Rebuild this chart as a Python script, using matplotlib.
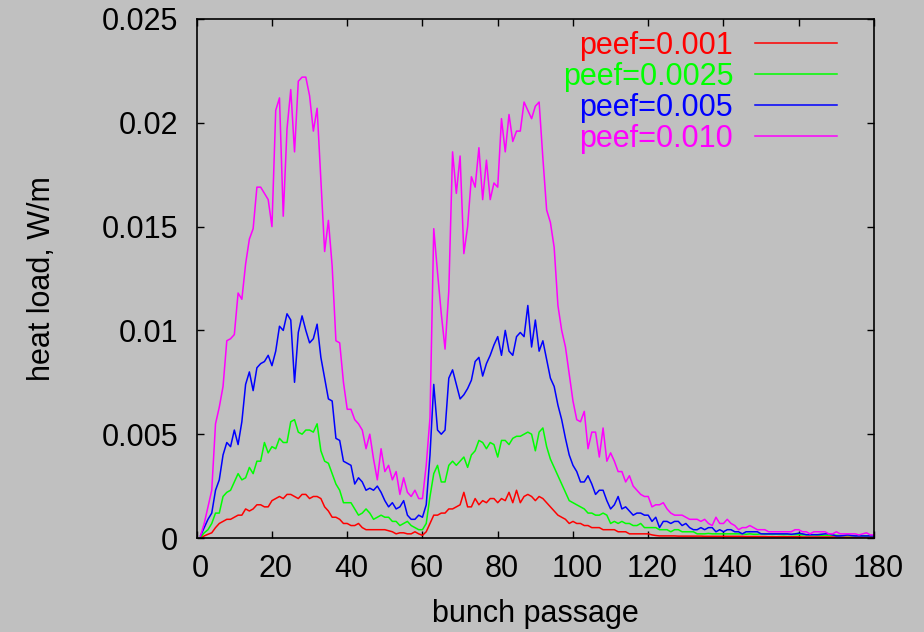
import numpy as np
import matplotlib
matplotlib.use("Agg")
import matplotlib.pyplot as plt
from matplotlib.transforms import ScaledTranslation

# Heat load per bunch passage for four values of the secondary emission parameter
bunch = np.arange(1, 181)

peef_010 = [
    0.0001, 0.0007, 0.0015, 0.0023, 0.0055, 0.0063, 0.0073, 0.0095, 0.0096, 0.0098,
    0.0118, 0.0115, 0.0132, 0.0144, 0.0149, 0.0169, 0.0169, 0.0166, 0.0163, 0.0150,
    0.0206, 0.0212, 0.0155, 0.0197, 0.0216, 0.0186, 0.0220, 0.0222, 0.0222, 0.0213,
    0.0196, 0.0207, 0.0173, 0.0138, 0.0153, 0.0131, 0.0095, 0.0094, 0.0075, 0.0062,
    0.0062, 0.0057, 0.0055, 0.0052, 0.0043, 0.0050, 0.0038, 0.0028, 0.0043, 0.0032,
    0.0035, 0.0028, 0.0032, 0.0021, 0.0029, 0.0022, 0.0020, 0.0023, 0.0019, 0.0019,
    0.0035, 0.0058, 0.0149, 0.0128, 0.0108, 0.0091, 0.0119, 0.0186, 0.0166, 0.0184,
    0.0137, 0.0150, 0.0174, 0.0169, 0.0188, 0.0163, 0.0182, 0.0163, 0.0171, 0.0169,
    0.0202, 0.0186, 0.0204, 0.0191, 0.0196, 0.0196, 0.0210, 0.0206, 0.0202, 0.0208,
    0.0210, 0.0183, 0.0158, 0.0152, 0.0140, 0.0112, 0.0100, 0.0092, 0.0079, 0.0066,
    0.0057, 0.0056, 0.0061, 0.0043, 0.0051, 0.0051, 0.0039, 0.0053, 0.0037, 0.0041,
    0.0037, 0.0032, 0.0032, 0.0027, 0.0030, 0.0025, 0.0023, 0.0021, 0.0020, 0.0020,
    0.0015, 0.0016, 0.0016, 0.0017, 0.0014, 0.0012, 0.0011, 0.0011, 0.0011, 0.0010,
    0.0009, 0.0009, 0.0009, 0.0008, 0.0009, 0.0007, 0.0006, 0.0010, 0.0007, 0.0007,
    0.0009, 0.0007, 0.0006, 0.0004, 0.0005, 0.0005, 0.0006, 0.0005, 0.0004, 0.0004,
    0.0004, 0.0003, 0.0003, 0.0003, 0.0003, 0.0003, 0.0003, 0.0003, 0.0004, 0.0004,
    0.0003, 0.0003, 0.0002, 0.0003, 0.0003, 0.0003, 0.0003, 0.0002, 0.0002, 0.0003,
    0.0002, 0.0002, 0.0002, 0.0002, 0.0002, 0.00015, 0.0002, 0.00025, 0.00015, 0.00015,
]

peef_005 = [
    0.0001, 0.0005, 0.0009, 0.0012, 0.0023, 0.0028, 0.0040, 0.0046, 0.0044, 0.0052,
    0.0045, 0.0056, 0.0074, 0.0080, 0.0071, 0.0082, 0.0084, 0.0085, 0.0088, 0.0083,
    0.0090, 0.0102, 0.0100, 0.0108, 0.0105, 0.0075, 0.0099, 0.0107, 0.0100, 0.0094,
    0.0096, 0.0103, 0.0087, 0.0077, 0.0067, 0.0066, 0.0048, 0.0047, 0.0037, 0.0036,
    0.0035, 0.0026, 0.0029, 0.0027, 0.0023, 0.0024, 0.0023, 0.0025, 0.0022, 0.0018,
    0.0015, 0.0017, 0.0014, 0.0015, 0.0018, 0.0011, 0.0009, 0.0009, 0.0011, 0.0010,
    0.0016, 0.0040, 0.0074, 0.0052, 0.0050, 0.0052, 0.0077, 0.0081, 0.0074, 0.0067,
    0.0069, 0.0072, 0.0076, 0.0085, 0.0087, 0.0078, 0.0084, 0.0088, 0.0093, 0.0097,
    0.0088, 0.0100, 0.0090, 0.0088, 0.0097, 0.0099, 0.0097, 0.0112, 0.0092, 0.0105,
    0.0090, 0.0095, 0.0086, 0.0077, 0.0073, 0.0064, 0.0057, 0.0048, 0.0040, 0.0035,
    0.0032, 0.0027, 0.0027, 0.0030, 0.0026, 0.0021, 0.0023, 0.0023, 0.0018, 0.0014,
    0.0016, 0.0020, 0.0014, 0.0015, 0.0013, 0.0011, 0.0012, 0.0012, 0.0011, 0.0011,
    0.0008, 0.0010, 0.0005, 0.0008, 0.0008, 0.0007, 0.0008, 0.0008, 0.0006, 0.0007,
    0.0005, 0.0004, 0.0004, 0.0005, 0.0004, 0.0005, 0.0005, 0.0003, 0.0004, 0.0003,
    0.0004, 0.0004, 0.0003, 0.0003, 0.0002, 0.0003, 0.0003, 0.0003, 0.0003, 0.0002,
    0.0002, 0.0002, 0.0002, 0.0002, 0.0002, 0.0002, 0.0002, 0.00018, 0.0002, 0.00023,
    0.0002, 0.00016, 0.00016, 0.00016, 0.00016, 0.00018, 0.0002, 0.0002, 0.00015, 0.0001,
    0.0001, 0.00012, 0.00015, 0.00012, 0.0001, 0.0001, 0.0001, 0.0001, 0.0001, 0.0001,
]

peef_0025 = [
    0.00003, 0.00025, 0.0004, 0.0007, 0.0012, 0.0012, 0.0020, 0.0022, 0.0023, 0.0027,
    0.0031, 0.0028, 0.0029, 0.0034, 0.0031, 0.0037, 0.0037, 0.0046, 0.0041, 0.0044,
    0.0043, 0.0048, 0.0046, 0.0046, 0.0056, 0.0057, 0.0051, 0.0050, 0.0052, 0.0052,
    0.0051, 0.0055, 0.0042, 0.0037, 0.0036, 0.0031, 0.0026, 0.0023, 0.0017, 0.0017,
    0.0017, 0.0014, 0.0011, 0.0012, 0.0014, 0.0012, 0.0009, 0.0010, 0.0011, 0.0010,
    0.0010, 0.0008, 0.0008, 0.0006, 0.0007, 0.0008, 0.0006, 0.0005, 0.0004, 0.0004,
    0.0007, 0.0020, 0.0031, 0.0035, 0.0027, 0.0027, 0.0035, 0.0037, 0.0035, 0.0037,
    0.0039, 0.0034, 0.0040, 0.0042, 0.0047, 0.0046, 0.0043, 0.0046, 0.0045, 0.0039,
    0.0047, 0.0047, 0.0045, 0.0048, 0.0049, 0.0049, 0.0050, 0.0051, 0.0050, 0.0042,
    0.0051, 0.0053, 0.0044, 0.0038, 0.0034, 0.0030, 0.0026, 0.0022, 0.0018, 0.0017,
    0.0016, 0.0015, 0.0014, 0.0012, 0.0012, 0.0011, 0.0011, 0.0012, 0.0011, 0.0007,
    0.0008, 0.0007, 0.0008, 0.0007, 0.0007, 0.0006, 0.0006, 0.0007, 0.0005, 0.0005,
    0.0005, 0.0005, 0.0004, 0.0004, 0.0004, 0.0003, 0.0004, 0.0004, 0.0003, 0.0003,
    0.0003, 0.0003, 0.0002, 0.0002, 0.0002, 0.00022, 0.0002, 0.0002, 0.0002, 0.0002,
    0.0002, 0.0002, 0.0002, 0.0002, 0.0002, 0.00018, 0.0002, 0.00018, 0.00018, 0.0002,
    0.00018, 0.00018, 0.00017, 0.00018, 0.00017, 0.00016, 0.00017, 0.00016, 0.00016, 0.00016,
    0.00015, 0.00015, 0.00014, 0.00015, 0.00014, 0.00013, 0.00014, 0.00013, 0.00013, 0.00013,
    0.00012, 0.00012, 0.00012, 0.00011, 0.00012, 0.00011, 0.00011, 0.00011, 0.00011, 0.00011,
]

peef_001 = [
    0.0, 0.0001, 0.00018, 0.00025, 0.0005, 0.0007, 0.0008, 0.0009, 0.0009, 0.0010,
    0.0011, 0.0011, 0.0014, 0.0013, 0.0014, 0.0016, 0.0016, 0.0015, 0.0015, 0.0018,
    0.0019, 0.0020, 0.0019, 0.0021, 0.0021, 0.0020, 0.0019, 0.0021, 0.0021, 0.0019,
    0.0020, 0.0020, 0.0019, 0.0015, 0.0013, 0.0010, 0.0010, 0.0009, 0.0007, 0.0007,
    0.0006, 0.0006, 0.0007, 0.0005, 0.0004, 0.0004, 0.0004, 0.0004, 0.0004, 0.0004,
    0.00035, 0.0003, 0.0002, 0.00025, 0.00025, 0.0002, 0.0002, 0.0003, 0.0002, 0.00013,
    0.0003, 0.0007, 0.0011, 0.0011, 0.0012, 0.0012, 0.0014, 0.0014, 0.0015, 0.0016,
    0.0022, 0.0015, 0.0015, 0.0019, 0.0016, 0.0018, 0.0017, 0.0019, 0.0019, 0.0017,
    0.0019, 0.0018, 0.0022, 0.0017, 0.0023, 0.0017, 0.0020, 0.0021, 0.0020, 0.0018,
    0.0020, 0.0019, 0.0017, 0.0015, 0.0013, 0.0011, 0.0010, 0.0009, 0.0007, 0.0008,
    0.0007, 0.0007, 0.0006, 0.0006, 0.0005, 0.0005, 0.0005, 0.0004, 0.0004, 0.0004,
    0.0004, 0.0003, 0.0003, 0.0003, 0.0002, 0.0002, 0.0002, 0.0002, 0.0002, 0.0002,
    0.00015, 0.00012, 0.0001, 0.0001, 0.0001, 0.0001, 0.0001, 0.00009, 0.00009, 0.00009,
    0.00009, 0.00009, 0.00009, 0.00009, 0.00008, 0.00008, 0.00008, 0.00008, 0.00008, 0.00008,
    0.00008, 0.00008, 0.00008, 0.00008, 0.00008, 0.00007, 0.00007, 0.00007, 0.00007, 0.00007,
    0.00007, 0.00006, 0.00006, 0.00006, 0.00006, 0.00006, 0.00006, 0.00006, 0.00006, 0.00006,
    0.00005, 0.00005, 0.00005, 0.00005, 0.00005, 0.00005, 0.00005, 0.00005, 0.00005, 0.00005,
    0.00004, 0.00004, 0.00004, 0.00004, 0.00004, 0.00004, 0.00004, 0.00004, 0.00004, 0.00004,
]

series = [
    ("peef=0.001", peef_001, "#ff0000"),
    ("peef=0.0025", peef_0025, "#00ff00"),
    ("peef=0.005", peef_005, "#0000ff"),
    ("peef=0.010", peef_010, "#ff00ff"),
]

x_ticks = [0, 20, 40, 60, 80, 100, 120, 140, 160, 180]
y_ticks = [0, 0.005, 0.01, 0.015, 0.02, 0.025]
y_tick_labels = ["0", "0.005", "0.01", "0.015", "0.02", "0.025"]

plt.rcParams["font.family"] = ["Liberation Sans", "DejaVu Sans"]
FS = 22
BG = "#c0c0c0"

W, H = 924, 632
fig = plt.figure(figsize=(W / 100, H / 100), dpi=100, facecolor=BG)
left, right, top, bottom = 196.7, 874.0, 19.0, 538.0
ax = fig.add_axes([left / W, 1 - bottom / H, (right - left) / W, (bottom - top) / H])
ax.set_facecolor(BG)

for label, values, color in series:
    ax.plot(bunch, values, color=color, lw=1.1, label=label)

ax.set_xlim(0, 180)
ax.set_ylim(0, 0.025)
ax.set_xticks(x_ticks)
ax.set_yticks(y_ticks)
ax.set_yticklabels(y_tick_labels)
ax.tick_params(direction="in", length=5, width=1.0, labelsize=FS,
               top=True, right=True, colors="black")
ax.tick_params(axis="x", pad=11.5)
ax.tick_params(axis="y", pad=13.5)
for sp in ax.spines.values():
    sp.set_linewidth(1.2)
    sp.set_color("black")

shift = ScaledTranslation(4 / 100, 0, fig.dpi_scale_trans)
for lab in ax.get_xticklabels():
    lab.set_transform(lab.get_transform() + shift)

ax.set_xlabel("bunch passage", fontsize=FS)
ax.xaxis.label.set_va("center")
ax.xaxis.set_label_coords(0.5, (bottom - 614) / (bottom - top))
ax.set_ylabel("heat load, W/m", fontsize=FS)
ax.yaxis.label.set_va("center")
ax.yaxis.set_label_coords((42 - left) / (right - left), 0.5)

leg = ax.legend(loc="upper right", bbox_to_anchor=((837 - left) / (right - left), (bottom - 31) / (bottom - top)),
                frameon=False, fontsize=FS, markerfirst=False, labelcolor="linecolor",
                handlelength=2.7, handletextpad=0.7, labelspacing=0.03, borderpad=0,
                borderaxespad=0)
for t in leg.get_texts():
    t.set_ha("right")

fig.savefig("out.png", dpi=100, facecolor=BG)
